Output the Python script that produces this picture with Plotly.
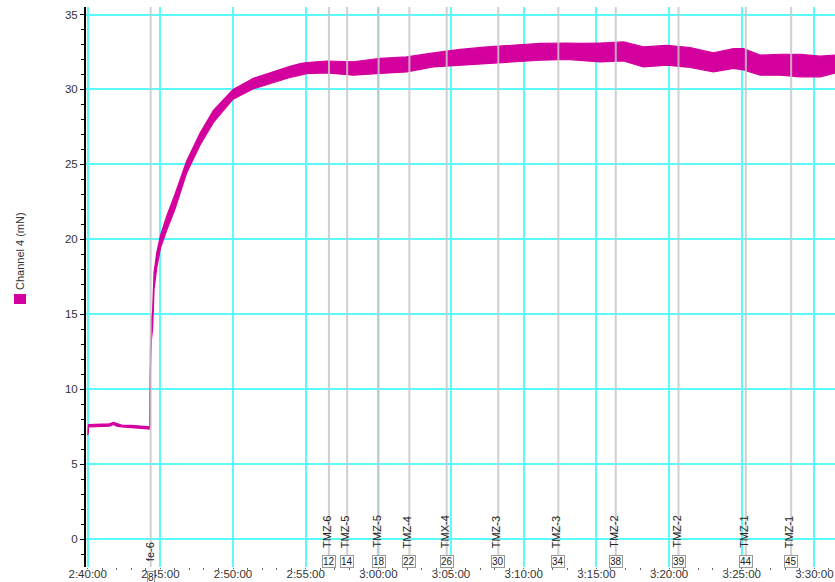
import plotly.graph_objects as go

DAY = "2024-01-01 "

# Channel 4 force trace, min/max envelope per time step (mN)
t_env = [
    "2:40:00", "2:40:02", "2:40:03", "2:40:30", "2:41:00", "2:41:30", "2:41:46", "2:42:00",
    "2:42:20", "2:43:00", "2:43:40", "2:44:10", "2:44:17", "2:44:19", "2:44:23", "2:44:28",
    "2:44:34", "2:44:45", "2:45:01", "2:45:26", "2:46:00", "2:46:49", "2:47:44", "2:48:39",
    "2:50:00", "2:51:24", "2:52:46", "2:53:55", "2:54:38", "2:55:04", "2:56:27", "2:58:17",
    "3:00:07", "3:01:57", "3:03:47", "3:05:37", "3:07:28", "3:09:17", "3:11:08", "3:12:58",
    "3:13:53", "3:15:15", "3:16:52", "3:18:14", "3:19:51", "3:21:27", "3:23:03", "3:24:26",
    "3:25:07", "3:26:16", "3:27:39", "3:29:01", "3:30:24", "3:31:26",
]
ch4_low = [
    6.95, 7.05, 7.50, 7.50, 7.52, 7.55, 7.65, 7.55,
    7.50, 7.45, 7.42, 7.35, 7.35, 11.3, 13.3, 14.1,
    16.7, 18.1, 19.45, 20.6, 22.0, 24.45, 26.3, 27.8,
    29.35, 30.05, 30.45, 30.8, 30.95, 31.05, 31.1, 30.95,
    31.07, 31.17, 31.5, 31.62, 31.73, 31.84, 31.95, 32.0,
    31.95, 31.84, 31.9, 31.5, 31.62, 31.47, 31.17, 31.4,
    31.3, 30.95, 30.95, 30.84, 30.84, 31.1,
]
ch4_high = [
    7.15, 7.20, 7.65, 7.65, 7.66, 7.70, 7.80, 7.72,
    7.62, 7.60, 7.56, 7.50, 7.50, 12.7, 14.7, 15.2,
    17.8, 19.1, 20.3, 21.55, 23.0, 25.25, 27.1, 28.6,
    30.0, 30.75, 31.2, 31.55, 31.73, 31.8, 31.9, 31.85,
    32.07, 32.17, 32.44, 32.67, 32.84, 32.95, 33.07, 33.1,
    33.07, 33.1, 33.17, 32.84, 32.95, 32.8, 32.44, 32.73,
    32.73, 32.29, 32.35, 32.35, 32.22, 32.3,
]

# Event markers
mark_times = ["2:44:20", "2:56:36", "2:57:51", "3:00:01", "3:02:08", "3:04:42",
              "3:08:15", "3:12:23", "3:16:20", "3:20:39", "3:25:17", "3:28:24"]
mark_labels = ["fe-6", "TMZ-6", "TMZ-5", "TMZ-5", "TMZ-4", "TMX-4",
               "TMZ-3", "TMZ-3", "TMZ-2", "TMZ-2", "TMZ-1", "TMZ-1"]
mark_ids = ["8", "12", "14", "18", "22", "26", "30", "34", "38", "39", "44", "45"]

y_ticks = [0, 5, 10, 15, 20, 25, 30, 35]

MAGENTA = "#d4009e"
CYAN = "#5cfafa"
FONT = "Liberation Sans, Arial, sans-serif"

# plot area in pixels (left edge 86, top 7, bottom 567)
PW, PH = 749, 560


def py(pix):
    """Vertical paper coordinate for a pixel row."""
    return (567 - pix) / PH


def px(pix):
    """Horizontal paper coordinate for a pixel column."""
    return (pix - 86) / PW


ts = [DAY + t for t in t_env]

fig = go.Figure()
fig.add_trace(go.Scatter(x=ts, y=ch4_low, mode="lines",
                         line=dict(color=MAGENTA, width=1.2), showlegend=False,
                         hoverinfo="skip"))
fig.add_trace(go.Scatter(x=ts, y=ch4_high, mode="lines", fill="tonexty",
                         fillcolor=MAGENTA, line=dict(color=MAGENTA, width=1.2),
                         name="Channel 4 (mN)", showlegend=False))

shapes = []
annotations = []
for i, (t, lab, mid) in enumerate(zip(mark_times, mark_labels, mark_ids)):
    xt = DAY + t
    shapes.append(dict(type="line", xref="x", yref="paper", x0=xt, x1=xt, y0=0, y1=1,
                       line=dict(color="rgba(200,200,200,0.85)", width=2), layer="above"))
    first = (i == 0)
    annotations.append(dict(x=xt, y=py(563 if first else 550), xref="x", yref="paper",
                            text=lab, textangle=-90, showarrow=False,
                            xanchor="center", yanchor="bottom", xshift=-1 if first else -2,
                            font=dict(family=FONT, size=11, color="#222")))
    annotations.append(dict(x=xt, y=py(577.5 if first else 561), xref="x", yref="paper",
                            text=mid, showarrow=False, xanchor="center", yanchor="middle",
                            bgcolor="white", bordercolor="#999", borderwidth=1, borderpad=0,
                            font=dict(family=FONT, size=10, color="#222")))

# Legend: swatch plus rotated series name at the left edge
shapes.append(dict(type="rect", xref="paper", yref="paper",
                   x0=px(14), x1=px(26), y0=py(304), y1=py(294),
                   fillcolor=MAGENTA, line=dict(width=0)))
annotations.append(dict(x=px(20), y=py(292), xref="paper", yref="paper",
                        text="Channel 4 (mN)", textangle=-90, showarrow=False,
                        xanchor="center", yanchor="bottom",
                        font=dict(family=FONT, size=11, color="#333")))

fig.update_layout(
    width=835, height=582,
    margin=dict(l=86, r=0, t=7, b=15),
    paper_bgcolor="white", plot_bgcolor="white",
    shapes=shapes, annotations=annotations,
    showlegend=False,
)
fig.update_xaxes(
    type="date", automargin=False,
    range=[DAY + "2:39:53", DAY + "3:31:25"],
    dtick=300000, tick0=DAY + "2:40:00", tickformat="%-H:%M:%S",
    showgrid=True, gridcolor=CYAN, gridwidth=1.5,
    showline=False, zeroline=False,
    ticks="outside", ticklen=1, tickcolor="#666",
    ticklabelstandoff=-5,
    minor=dict(dtick=60000, ticks="outside", ticklen=2, tickcolor="#666", showgrid=False),
    tickfont=dict(family=FONT, size=11.5, color="#333"),
)
fig.update_yaxes(
    automargin=False,
    range=[-1.85, 35.5],
    tickvals=y_ticks,
    showgrid=True, gridcolor=CYAN, gridwidth=1.5,
    zeroline=False,
    showline=True, linecolor="black", linewidth=2,
    ticks="outside", ticklen=4, tickcolor="black",
    minor=dict(dtick=1, ticks="outside", ticklen=3, tickcolor="black", showgrid=False),
    tickfont=dict(family=FONT, size=11.5, color="#333"),
)

fig.write_html("out.html")
